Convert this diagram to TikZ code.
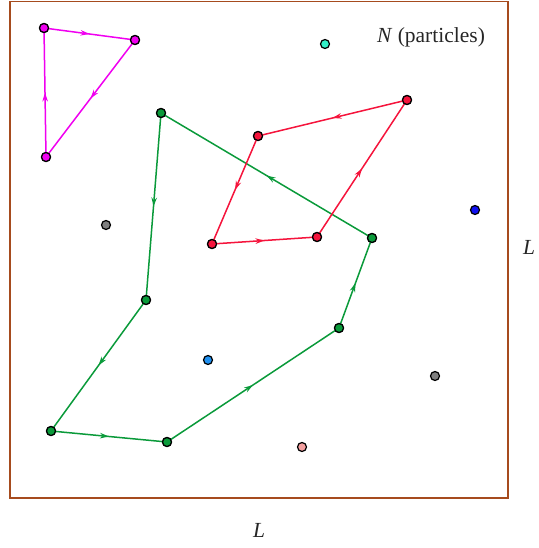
\documentclass[tikz,border=0pt]{standalone}
\usepackage{fontspec}
\setmainfont{Liberation Serif}
\usetikzlibrary{arrows.meta,decorations.markings}
\definecolor{boxc}{HTML}{A64B1E}
\definecolor{grn}{HTML}{0A9A3A}
\definecolor{rd}{HTML}{F5143C}
\definecolor{mag}{HTML}{F000F0}
\definecolor{aqua}{HTML}{33F0C8}
\definecolor{blu}{HTML}{1010F0}
\definecolor{azu}{HTML}{2090F0}
\definecolor{pnk}{HTML}{F4A0A0}
\definecolor{gry}{HTML}{808080}
\tikzset{
  pt/.style={circle,draw=black,line width=1.2pt,inner sep=0pt,minimum size=9pt,fill=#1},
  flow/.style={draw=#1,line width=1.5pt,shorten <=-1pt,shorten >=-1pt,
    postaction={decorate},
    decoration={markings,mark=at position 0.5 with {\arrow[#1]{Stealth[length=9pt,width=5.5pt]}}}},
  lbl/.style={inner sep=0pt,font=\fontsize{21.5}{25}\selectfont}
}
\begin{document}
\begin{tikzpicture}[x=1pt,y=-1pt]
\useasboundingbox (0,0) rectangle (538,548);
\draw[boxc,line width=1.8pt] (10,1.5) rectangle (508,498);
% magenta
\node[pt=mag] (a1) at (44,28) {};
\node[pt=mag] (a2) at (135,40) {};
\node[pt=mag] (a3) at (46,157) {};
% red
\node[pt=rd] (r1) at (407,100) {};
\node[pt=rd] (r2) at (258,136) {};
\node[pt=rd] (r3) at (212,244) {};
\node[pt=rd] (r4) at (317,237) {};
% green
\node[pt=grn] (g1) at (161,113) {};
\node[pt=grn] (g2) at (146,300) {};
\node[pt=grn] (g3) at (51,431) {};
\node[pt=grn] (g4) at (167,442) {};
\node[pt=grn] (g5) at (339,328) {};
\node[pt=grn] (g6) at (372,238) {};
% loose particles
\node[pt=aqua] (c1) at (325,44) {};
\node[pt=gry] (k1) at (106,225) {};
\node[pt=gry] (k2) at (435,376) {};
\node[pt=blu] (b1) at (475,210) {};
\node[pt=azu] (z1) at (208,360) {};
\node[pt=pnk] (p1) at (302,447) {};
% paths
\draw[flow=mag] (a1) -- (a2);
\draw[flow=mag] (a2) -- (a3);
\draw[flow=mag] (a3) -- (a1);
\draw[flow=grn] (g1) -- (g2);
\draw[flow=grn] (g2) -- (g3);
\draw[flow=grn] (g3) -- (g4);
\draw[flow=grn] (g4) -- (g5);
\draw[flow=grn] (g5) -- (g6);
\draw[flow=grn] (g6) -- (g1);
\draw[flow=rd] (r1) -- (r2);
\draw[flow=rd] (r2) -- (r3);
\draw[flow=rd] (r3) -- (r4);
\draw[flow=rd] (r4) -- (r1);
% redraw dots on top
\foreach \n/\c in {a1/mag,a2/mag,a3/mag,r1/rd,r2/rd,r3/rd,r4/rd,g1/grn,g2/grn,g3/grn,g4/grn,g5/grn,g6/grn}
  \node[pt=\c] at (\n) {};
% labels
\node[lbl,text=black!85] (tn) at (431,37) {\textit{N} (particles)};
\node[lbl,text=black!85] (tl) at (259,530) {\textit{L}};
\node[lbl,text=black!85,anchor=west] (tr) at (523,247) {\textit{L}};
\end{tikzpicture}
\end{document}
